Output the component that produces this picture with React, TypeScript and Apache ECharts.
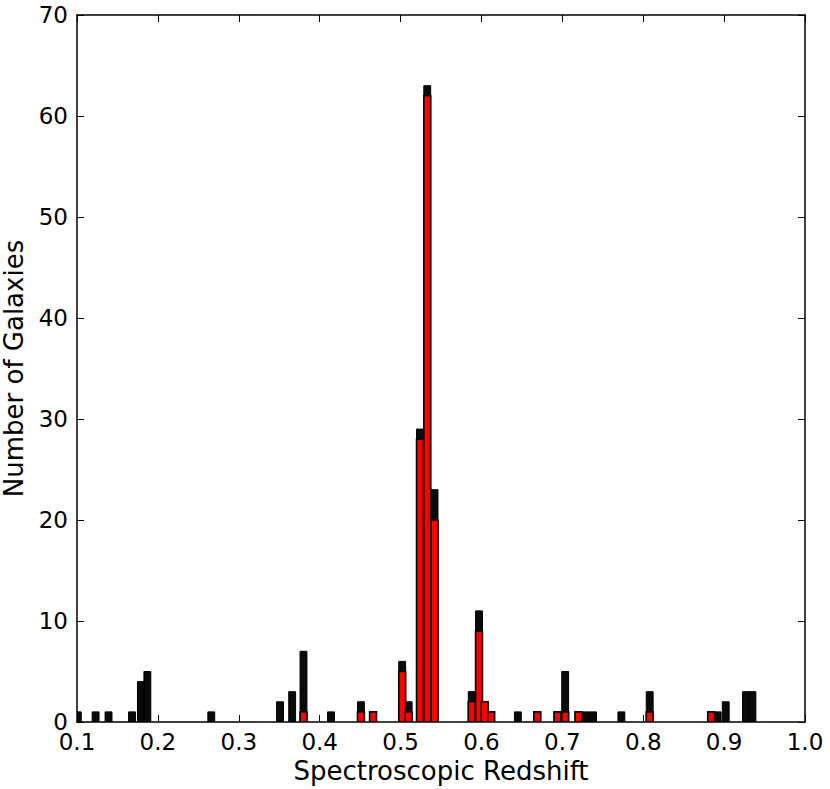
import React, { useEffect, useRef } from "react";
import * as echarts from "echarts";

// Histogram bins (centre redshift), total counts (black) and subset counts (red)
const binCenters = [
  0.101, 0.123, 0.139, 0.168, 0.179, 0.187, 0.266, 0.351, 0.366, 0.38,
  0.414, 0.451, 0.466, 0.502, 0.51, 0.524, 0.533, 0.542, 0.588, 0.597,
  0.604, 0.612, 0.645, 0.669, 0.694, 0.7035, 0.72, 0.729, 0.738, 0.773,
  0.808, 0.884, 0.892, 0.902, 0.927, 0.935,
];
const totalCounts = [
  1, 1, 1, 1, 4, 5, 1, 2, 3, 7,
  1, 2, 1, 6, 2, 29, 63, 23, 3, 11,
  2, 1, 1, 1, 1, 5, 1, 1, 1, 1,
  3, 1, 1, 2, 3, 3,
];
const redCounts = [
  0, 0, 0, 0, 0, 0, 0, 0, 0, 1,
  0, 1, 1, 5, 1, 28, 62, 20, 2, 9,
  2, 1, 0, 1, 1, 1, 1, 0, 0, 0,
  1, 1, 0, 0, 0, 0,
];
const BIN_WIDTH = 0.0085;

const xTicks = [0.1, 0.2, 0.3, 0.4, 0.5, 0.6, 0.7, 0.8, 0.9, 1.0];
const yTicks = [0, 10, 20, 30, 40, 50, 60, 70];

const FONT = "DejaVu Sans";

function makeRender(fill: string, lw: number) {
  return (params: any, api: any) => {
    const x = api.value(0);
    const h = api.value(1);
    const p0 = api.coord([x - BIN_WIDTH / 2, h]);
    const p1 = api.coord([x + BIN_WIDTH / 2, 0]);
    return {
      type: "rect",
      shape: { x: p0[0], y: p0[1], width: p1[0] - p0[0], height: p1[1] - p0[1] },
      style: { fill, stroke: "#000", lineWidth: lw },
    };
  };
}

export default function App() {
  const ref = useRef<HTMLDivElement>(null);
  useEffect(() => {
    if (!ref.current) return;
    const chart = echarts.init(ref.current, undefined, { renderer: "svg" });
    const blackData = binCenters.map((c, i) => [c, totalCounts[i]]);
    const redData = binCenters
      .map((c, i) => [c, redCounts[i]])
      .filter((d) => d[1] > 0);
    const axisCommon = {
      axisLine: { show: true, onZero: false, lineStyle: { color: "#000", width: 1.5 } },
      axisTick: { show: true, inside: true, length: 7, lineStyle: { color: "#000", width: 1 } },
      splitLine: { show: false },
    };
    chart.setOption({
      animation: false,
      backgroundColor: "#fff",
      textStyle: { fontFamily: FONT },
      grid: {
        left: 77,
        right: 25,
        top: 15,
        bottom: 67,
        containLabel: false,
        outerBoundsMode: "none",
      },
      xAxis: [
        {
          type: "value",
          min: xTicks[0],
          max: xTicks[xTicks.length - 1],
          interval: 0.1,
          name: "Spectroscopic Redshift",
          nameLocation: "middle",
          nameGap: 36,
          nameTextStyle: { fontSize: 26, color: "#000", fontFamily: FONT },
          axisLabel: {
            fontSize: 23,
            color: "#000",
            margin: 8,
            fontFamily: FONT,
            formatter: (v: number) => (Math.round(v * 10) / 10).toFixed(1),
          },
          ...axisCommon,
        },
        {
          type: "value",
          position: "top",
          min: xTicks[0],
          max: xTicks[xTicks.length - 1],
          interval: 0.1,
          axisLabel: { show: false },
          ...axisCommon,
        },
      ],
      yAxis: [
        {
          type: "value",
          min: yTicks[0],
          max: yTicks[yTicks.length - 1],
          interval: 10,
          name: "Number of Galaxies",
          nameLocation: "middle",
          nameGap: 50,
          nameTextStyle: { fontSize: 26, color: "#000", fontFamily: FONT },
          axisLabel: { fontSize: 23, color: "#000", margin: 9, fontFamily: FONT },
          ...axisCommon,
        },
        {
          type: "value",
          position: "right",
          min: yTicks[0],
          max: yTicks[yTicks.length - 1],
          interval: 10,
          axisLabel: { show: false },
          ...axisCommon,
        },
      ],
      series: [
        {
          type: "custom",
          xAxisIndex: 0,
          yAxisIndex: 0,
          data: blackData,
          renderItem: makeRender("#0a0a0a", 1),
          encode: { x: 0, y: 1 },
          clip: true,
        },
        {
          type: "custom",
          xAxisIndex: 0,
          yAxisIndex: 0,
          data: redData,
          renderItem: makeRender("#ff0000", 1.6),
          encode: { x: 0, y: 1 },
          clip: true,
        },
      ],
    });
    return () => chart.dispose();
  }, []);
  return (
    <div
      ref={ref}
      style={{ position: "fixed", left: 0, top: 0, width: 830, height: 789 }}
    />
  );
}
